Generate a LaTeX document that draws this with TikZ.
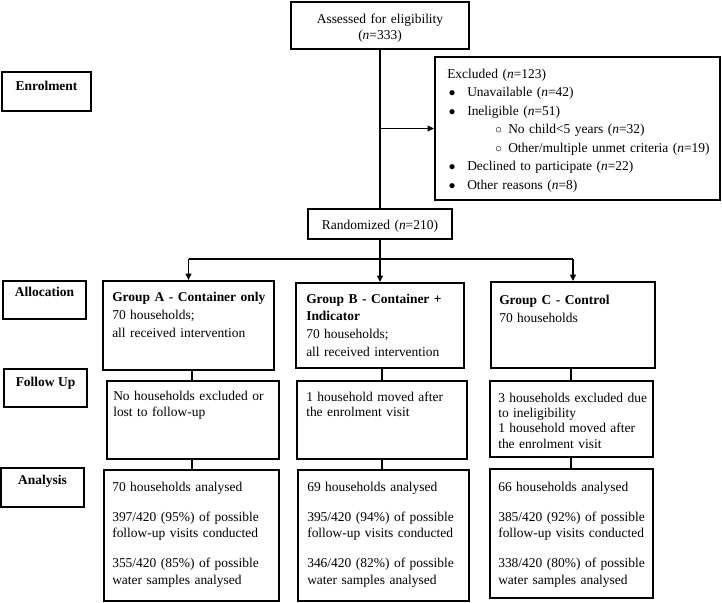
\documentclass[tikz,border=0pt]{standalone}
\usepackage{fontspec}
\setmainfont{Liberation Serif}
\usetikzlibrary{arrows.meta,fit}
\newcommand\bul{\makebox[15pt][l]{\hspace*{1.2pt}$\bullet$}}
\newcommand\sbul{\makebox[45.75pt][l]{\hspace*{36pt}$\circ$}}
\begin{document}
\begin{tikzpicture}[x=0.75pt,y=-0.75pt,
  box/.style={draw, line width=1.3pt, inner sep=0pt},
  lbl/.style={anchor=base, inner sep=0pt, font=\fontsize{10.1}{13}\selectfont\bfseries},
  txt/.style={anchor=base west, inner sep=0pt, text width=200pt, align=left},
  ctxt/.style={anchor=base, inner sep=0pt, text width=160pt, align=center},
  conn/.style={line width=1.2pt},
  arr/.style={conn, -{Triangle[length=4.8pt,width=4.2pt]}}]
\useasboundingbox (0,0) rectangle (722,603);
% boxes
\node[box, fit={(291,2) (469,49)}] (top) {};
\node[box, fit={(2,72) (91,111)}] (enr) {};
\node[box, fit={(435,57) (720,200)}] (excl) {};
\node[box, fit={(308,209) (452,239)}] (rand) {};
\node[box, fit={(3,281) (86,319)}] (alloc) {};
\node[box, fit={(103,281) (274,370)}] (gA) {};
\node[box, fit={(296,283) (464,368)}] (gB) {};
\node[box, fit={(491,282) (655,368)}] (gC) {};
\node[box, fit={(4,369) (87,407)}] (fol) {};
\node[box, fit={(107,381) (279,459)}] (fuA) {};
\node[box, fit={(297,381) (467,459)}] (fuB) {};
\node[box, fit={(490,381) (653,457)}] (fuC) {};
\node[box, fit={(1,468) (84,507)}] (ana) {};
\node[box, fit={(104,470) (279,601)}] (anA) {};
\node[box, fit={(298,470) (469,601)}] (anB) {};
\node[box, fit={(490,469) (653,598)}] (anC) {};
% texts
\node[ctxt, font=\fontsize{10.1}{12}\selectfont] (topt) at (380,23) {Assessed for eligibility\\(\textit{n}=333)};
\node[lbl] (enrt) at (46.5,90) {Enrolment};
\node[txt, font=\fontsize{10.1}{13.95}\selectfont] (exclt) at (447,78) {Excluded (\textit{n}=123)\\
\bul Unavailable (\textit{n}=42)\\
\bul Ineligible (\textit{n}=51)\\
\sbul No child<5 years (\textit{n}=32)\\
\sbul Other/multiple unmet criteria (\textit{n}=19)\\
\bul Declined to participate (\textit{n}=22)\\
\bul Other reasons (\textit{n}=8)};
\node[ctxt, font=\fontsize{10.1}{12}\selectfont] (randt) at (380,229) {Randomized (\textit{n}=210)};
\node[lbl] (alloct) at (44.5,296) {Allocation};
\node[txt, font=\fontsize{10.1}{13.5}\selectfont] (gAt) at (112,301) {\textbf{Group A - Container only}\\70 households;\\all received intervention};
\node[txt, font=\fontsize{10.1}{13.3}\selectfont] (gBt) at (306,303) {\textbf{Group B - Container +}\\\textbf{Indicator}\\70 households;\\all received intervention};
\node[txt, font=\fontsize{10.1}{13.5}\selectfont] (gCt) at (499,304) {\textbf{Group C - Control}\\70 households};
\node[lbl] (folt) at (45.5,386) {Follow Up};
\node[txt, font=\fontsize{10.1}{12}\selectfont] (fuAt) at (113,400) {No households excluded or\\lost to follow-up};
\node[txt, font=\fontsize{10.1}{11.4}\selectfont] (fuBt) at (306,401) {1 household moved after\\the enrolment visit};
\node[txt, font=\fontsize{10.1}{11.5}\selectfont] (fuCt) at (498,402) {3 households excluded due\\to ineligibility\\1 household moved after\\the enrolment visit};
\node[lbl] (anat) at (42.5,484) {Analysis};
\node[txt, font=\fontsize{10.1}{12.4}\selectfont] (anAt) at (112,491) {70 households analysed\\[10.1pt]397/420 (95\%) of possible\\follow-up visits conducted\\[10.1pt]355/420 (85\%) of possible\\water samples analysed};
\node[txt, font=\fontsize{10.1}{12.4}\selectfont] (anBt) at (307,491) {69 households analysed\\[10.1pt]395/420 (94\%) of possible\\follow-up visits conducted\\[10.1pt]346/420 (82\%) of possible\\water samples analysed};
\node[txt, font=\fontsize{10.1}{12.4}\selectfont] (anCt) at (498,491) {66 households analysed\\[10.1pt]385/420 (92\%) of possible\\follow-up visits conducted\\[10.1pt]338/420 (80\%) of possible\\water samples analysed};
% connectors
\coordinate (split) at (380,259);
\coordinate (colA) at (192,0);
\coordinate (colB) at (382,0);
\coordinate (colC) at (571,0);
\draw[conn] (top.south) -- (rand.north);
\draw[arr] (top.south |- excl.west) -- (excl.west);
\draw[conn] (rand.south) -- (split);
\draw[conn] (gA.north |- split) -- (gC.north |- split);
\draw[arr] (gA.north |- split) -- (gA.north);
\draw[arr] (split) -- (gB.north);
\draw[arr] (gC.north |- split) -- (gC.north);
\draw[conn] (colA |- gA.south) -- (colA |- fuA.north);
\draw[conn] (colB |- gB.south) -- (colB |- fuB.north);
\draw[conn] (colC |- gC.south) -- (colC |- fuC.north);
\draw[conn] (colA |- fuA.south) -- (colA |- anA.north);
\draw[conn] (colB |- fuB.south) -- (colB |- anB.north);
\draw[conn] (colC |- fuC.south) -- (colC |- anC.north);
\end{tikzpicture}
\end{document}
